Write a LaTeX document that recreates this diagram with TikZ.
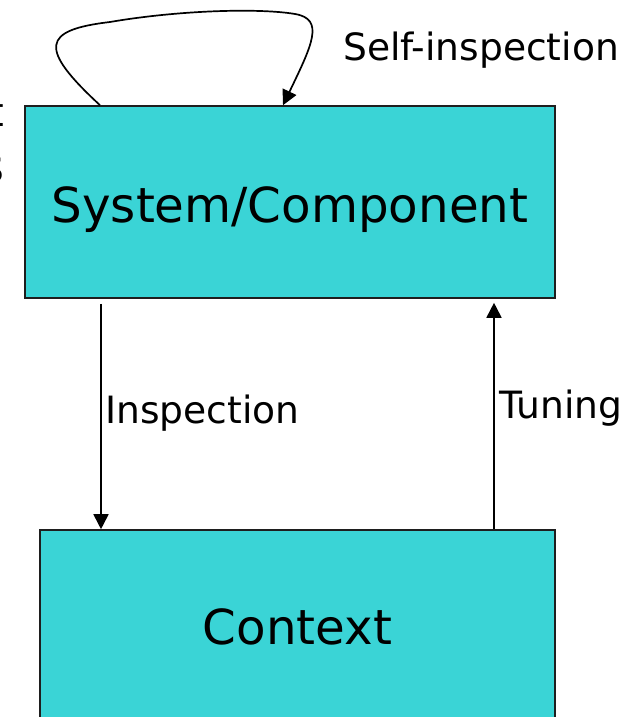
\documentclass[tikz,border=0pt]{standalone}
\usepackage{fontspec}
\setmainfont{DejaVu Sans}
\usetikzlibrary{arrows.meta}
\definecolor{boxcyan}{RGB}{58,212,214}
\definecolor{edgegray}{RGB}{30,30,30}
\begin{document}
\begin{tikzpicture}[x=1pt,y=-1pt,
  box/.style={draw=edgegray, line width=1.6pt, fill=boxcyan, inner sep=0pt,
    font=\fontsize{48.3}{56}\selectfont, text height=35pt, text depth=0pt},
  lbl/.style={font=\fontsize{37.6}{44}\selectfont, inner sep=0pt, anchor=base west},
  frag/.style={inner sep=0pt, anchor=base east},
  arr/.style={line width=1.7pt, draw=black, -{Triangle[length=15pt,width=15pt]}}]
\useasboundingbox (0,0) rectangle (635,717);
% boxes
\node[box, minimum width=530pt, minimum height=192pt] (sys) at (290,202) {\raisebox{-2.5pt}{System/Component}};
\node[box, minimum width=515pt, minimum height=193pt] (ctx) at (297.5,626.5) {Context};
% fragments of cut-off text at the left edge
\node[frag, font=\fontsize{40}{48}\selectfont] (fragt) at (4,126) {t};
\node[frag, font=\fontsize{46}{54}\selectfont] (frags) at (4.5,182) {s};
% reference columns
\coordinate (colIn) at (101,0);
\coordinate (colTu) at (494,0);
\coordinate (loopA) at (100,0);
\coordinate (loopB) at (283,0);
% connectors
\draw[arr] ([yshift=-5pt]sys.south -| colIn) -- (ctx.north -| colIn);
\draw[arr] (ctx.north -| colTu) -- ([yshift=-4pt]sys.south -| colTu);
\draw[arr] (sys.north -| loopA) .. controls (38,48) and (42,30) .. (110,22)
  .. controls (180,10) and (260,8) .. (295,14)
  .. controls (325,19) and (312,45) .. (sys.north -| loopB);
% labels
\node[lbl] (lself) at (343,60) {Self-inspection};
\node[lbl] (lins) at (105,423) {Inspection};
\node[lbl] (ltun) at (499,418) {Tuning};
\end{tikzpicture}
\end{document}
